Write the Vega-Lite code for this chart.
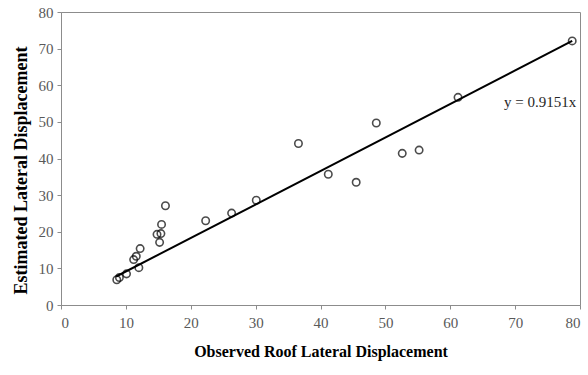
{
  "$schema": "https://vega.github.io/schema/vega-lite/v6.json",
  "autosize": "none",
  "width": 519,
  "height": 293,
  "padding": {"left": 61, "top": 12, "right": 8, "bottom": 70},
  "config": {
    "view": {"stroke": "#8c8c8c", "strokeWidth": 1},
    "font": "Liberation Serif",
    "axis": {
      "grid": false,
      "domainColor": "#8c8c8c",
      "tickColor": "#8c8c8c",
      "labelColor": "#595959",
      "labelFont": "Liberation Serif",
      "labelFontSize": 15,
      "labelOverlap": false,
      "titleFont": "Liberation Serif",
      "titleFontWeight": "bold",
      "titleColor": "#000000",
      "tickSize": 4
    }
  },
  "datasets": {
    "points": [
      {"obs": 8.6, "est": 6.9},
      {"obs": 9.0, "est": 7.5},
      {"obs": 10.1, "est": 8.5},
      {"obs": 11.2, "est": 12.4},
      {"obs": 11.6, "est": 13.3},
      {"obs": 12.2, "est": 15.4},
      {"obs": 12.0, "est": 10.2},
      {"obs": 14.8, "est": 19.3},
      {"obs": 15.4, "est": 19.5},
      {"obs": 15.2, "est": 17.1},
      {"obs": 15.5, "est": 22.0},
      {"obs": 16.1, "est": 27.1},
      {"obs": 22.3, "est": 23.0},
      {"obs": 26.3, "est": 25.1},
      {"obs": 30.1, "est": 28.6},
      {"obs": 36.6, "est": 44.1},
      {"obs": 41.2, "est": 35.7},
      {"obs": 45.5, "est": 33.5},
      {"obs": 48.6, "est": 49.7},
      {"obs": 52.6, "est": 41.4},
      {"obs": 55.2, "est": 42.3},
      {"obs": 61.2, "est": 56.7},
      {"obs": 78.8, "est": 72.1}
    ],
    "fit": [
      {"obs": 8.5, "est": 7.78},
      {"obs": 78.8, "est": 72.11}
    ],
    "label": [
      {"obs": 68.3, "est": 55.5, "text": "y = 0.9151x"}
    ]
  },
  "encoding": {
    "x": {
      "field": "obs", "type": "quantitative",
      "scale": {"domain": [0, 80]},
      "axis": {"values": [0,10,20,30,40,50,60,70,80], "labelOverlap": false, "title": "Observed Roof Lateral Displacement", "titleFontSize": 16, "titlePadding": 13, "labelPadding": 6}
    },
    "y": {
      "field": "est", "type": "quantitative",
      "scale": {"domain": [0, 80]},
      "axis": {"values": [0,10,20,30,40,50,60,70,80], "labelOverlap": false, "title": "Estimated Lateral Displacement", "titleFontSize": 18, "titlePadding": 8, "titleY": 158, "labelPadding": 4}
    }
  },
  "layer": [
    {
      "data": {"name": "fit"},
      "mark": {"type": "line", "color": "#000000", "strokeWidth": 2}
    },
    {
      "data": {"name": "points"},
      "mark": {"type": "point", "shape": "circle", "filled": false, "color": "#000000", "strokeWidth": 1.6, "size": 55}
    },
    {
      "data": {"name": "label"},
      "mark": {"type": "text", "align": "left", "baseline": "middle", "fontSize": 15, "color": "#262626", "font": "Liberation Serif"},
      "encoding": {
        "text": {"field": "text"}
      }
    }
  ]
}
